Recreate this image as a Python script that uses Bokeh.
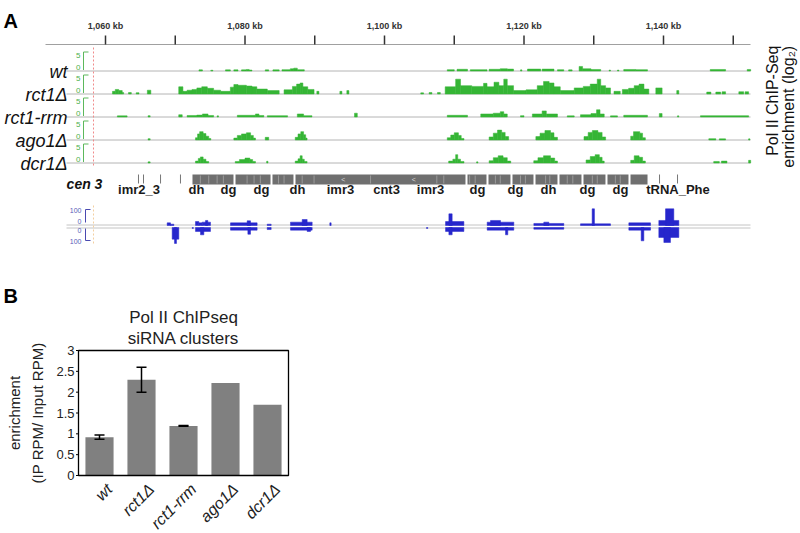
import math
from bokeh.plotting import figure
from bokeh.models import Range1d
from bokeh.embed import file_html
from bokeh.resources import INLINE
from bokeh.core.properties import value

FONT = "Liberation Sans"

# ======================= DATA : panel A =======================
ruler_ticks_kb = [1060, 1070, 1080, 1090, 1100, 1110, 1120, 1130, 1140, 1150]
ruler_label_kb = [1060, 1080, 1100, 1120, 1140]
ruler_labels = ["1,060 kb", "1,080 kb", "1,100 kb", "1,120 kb", "1,140 kb"]

track_names = ["wt", "rct1Δ", "rct1-rrm", "ago1Δ", "dcr1Δ"]
track_scale = ["5", "0"]

# (start kb, end kb, log2 enrichment)
wt_cov = [(1073.4, 1073.9, 0.3), (1075.1, 1075.4, 0.2), (1077.2, 1077.9, 0.3), (1078.4, 1079.0, 0.3),
          (1079.5, 1080.2, 0.3), (1080.2, 1080.6, 0.4), (1080.6, 1081.0, 0.25), (1082.9, 1083.4, 0.3),
          (1084.0, 1084.9, 0.3), (1085.3, 1086.5, 0.35), (1086.5, 1087.0, 0.6), (1087.0, 1087.5, 0.75),
          (1087.5, 1088.5, 0.35), (1109.0, 1110.0, 0.35), (1110.4, 1111.9, 0.45), (1112.3, 1114.7, 0.35),
          (1115.0, 1116.6, 0.45), (1116.6, 1117.6, 0.6), (1117.6, 1118.5, 0.5), (1119.5, 1119.7, 0.3),
          (1120.5, 1122.4, 0.5), (1122.6, 1124.3, 0.5), (1124.8, 1125.7, 0.35), (1126.4, 1126.9, 0.3),
          (1127.9, 1128.4, 1.2), (1128.4, 1129.6, 0.6), (1129.6, 1131.0, 0.4), (1132.2, 1132.4, 0.25),
          (1133.4, 1133.6, 0.25), (1134.3, 1136.0, 0.4), (1136.0, 1137.7, 0.35), (1146.7, 1148.9, 0.4),
          (1152.0, 1152.5, 0.4)]

rct1_cov = [(1061.0, 1061.4, 0.7), (1061.4, 1061.9, 1.2), (1061.9, 1062.4, 0.9), (1062.4, 1062.6, 0.4),
            (1063.3, 1063.7, 0.4), (1064.4, 1064.8, 0.35), (1066.0, 1066.5, 1.0), (1070.5, 1071.1, 1.9),
            (1071.1, 1071.7, 0.7), (1071.7, 1072.4, 1.0), (1072.4, 1073.1, 1.2), (1073.1, 1073.8, 1.6),
            (1073.8, 1074.6, 1.9), (1074.6, 1075.5, 1.5), (1075.5, 1076.5, 1.0), (1076.5, 1077.9, 0.7),
            (1077.9, 1078.4, 1.8), (1078.4, 1079.0, 2.5), (1079.0, 1080.2, 2.3), (1080.2, 1081.0, 2.1),
            (1081.0, 1081.7, 1.9), (1081.7, 1083.2, 1.3), (1083.2, 1084.9, 0.9), (1085.6, 1086.8, 1.1),
            (1086.8, 1087.4, 2.0), (1087.4, 1087.9, 2.6), (1087.9, 1088.3, 2.9), (1088.3, 1089.0, 1.9),
            (1089.0, 1089.9, 1.2), (1090.3, 1090.6, 0.7), (1093.6, 1093.9, 0.7), (1094.6, 1094.9, 0.9),
            (1105.2, 1105.6, 0.3), (1106.4, 1106.8, 0.4), (1107.6, 1108.0, 0.4), (1108.7, 1110.2, 1.9),
            (1110.2, 1110.9, 3.9), (1110.9, 1112.5, 2.2), (1112.5, 1114.2, 2.0), (1114.2, 1114.7, 2.8),
            (1114.7, 1115.7, 1.9), (1115.7, 1116.4, 3.1), (1116.4, 1117.1, 2.2), (1117.1, 1117.6, 3.9),
            (1117.6, 1118.5, 2.2), (1118.5, 1120.3, 0.9), (1120.3, 1121.9, 1.1), (1121.9, 1122.8, 2.2),
            (1122.8, 1123.6, 3.3), (1123.6, 1124.3, 2.9), (1124.3, 1125.2, 1.9), (1125.2, 1127.2, 0.9),
            (1127.2, 1128.5, 1.6), (1128.5, 1129.5, 2.0), (1129.5, 1130.5, 2.6), (1130.5, 1131.0, 3.9),
            (1131.0, 1131.7, 2.2), (1131.7, 1132.4, 1.6), (1132.9, 1133.8, 0.7), (1134.1, 1135.0, 1.2),
            (1135.0, 1135.8, 1.5), (1135.8, 1136.5, 2.2), (1136.5, 1137.2, 2.6), (1137.2, 1137.9, 1.3),
            (1138.9, 1139.8, 1.6), (1141.9, 1142.2, 0.9), (1146.2, 1146.8, 0.5), (1147.5, 1148.2, 0.5),
            (1148.4, 1148.9, 0.6), (1150.8, 1151.5, 0.6), (1151.7, 1152.2, 0.6)]

rrm_cov = [(1061.7, 1063.1, 0.3), (1066.1, 1066.4, 0.35), (1070.5, 1071.0, 0.6), (1071.7, 1073.1, 0.4),
           (1073.1, 1073.9, 0.5), (1073.9, 1074.7, 0.8), (1074.7, 1075.5, 0.4), (1076.0, 1076.2, 0.3),
           (1078.9, 1081.5, 0.45), (1081.5, 1082.0, 0.8), (1082.0, 1082.7, 0.4), (1083.2, 1086.1, 0.35),
           (1087.5, 1088.4, 0.8), (1088.4, 1089.6, 0.35), (1095.7, 1096.1, 1.0), (1109.0, 1111.9, 0.45),
           (1113.8, 1115.6, 0.8), (1115.6, 1116.6, 1.0), (1116.6, 1117.1, 1.4), (1117.1, 1117.6, 0.8),
           (1119.5, 1120.0, 0.35), (1121.2, 1122.6, 0.8), (1122.6, 1123.2, 1.6), (1123.2, 1124.8, 0.8),
           (1126.2, 1127.2, 0.3), (1128.1, 1129.6, 0.6), (1129.6, 1130.4, 0.9), (1130.4, 1130.9, 1.9),
           (1130.9, 1131.5, 0.8), (1132.4, 1133.4, 0.3), (1134.3, 1137.7, 0.45), (1139.4, 1139.8, 0.9),
           (1142.0, 1142.2, 0.3), (1145.3, 1152.2, 0.35)]

ago1_cov = [(1066.1, 1066.4, 0.35),
            (1072.9, 1073.2, 0.6), (1073.2, 1073.5, 1.6), (1073.5, 1074.0, 2.2), (1074.0, 1074.4, 1.7),
            (1074.4, 1074.8, 1.0), (1074.8, 1075.1, 0.4),
            (1078.4, 1078.9, 0.5), (1078.9, 1079.5, 1.2), (1079.5, 1080.2, 1.6), (1080.2, 1080.8, 1.9),
            (1080.8, 1081.2, 1.2), (1081.2, 1081.5, 0.5), (1082.9, 1083.4, 0.7),
            (1087.2, 1087.6, 0.7), (1087.6, 1088.0, 1.6), (1088.0, 1088.4, 2.2), (1088.4, 1088.7, 1.4),
            (1088.7, 1088.9, 0.5),
            (1109.0, 1109.5, 0.6), (1109.5, 1110.0, 1.3), (1110.0, 1110.6, 1.9), (1110.6, 1111.0, 1.2),
            (1111.0, 1111.4, 0.4),
            (1115.0, 1115.6, 0.8), (1115.6, 1116.2, 1.8), (1116.2, 1116.8, 2.6), (1116.8, 1117.3, 2.0),
            (1117.3, 1117.8, 0.9),
            (1121.7, 1122.3, 0.9), (1122.3, 1123.0, 1.8), (1123.0, 1123.8, 2.5), (1123.8, 1124.3, 1.9),
            (1124.3, 1124.8, 0.7),
            (1128.6, 1129.2, 0.9), (1129.2, 1129.8, 2.0), (1129.8, 1130.6, 2.5), (1130.6, 1131.2, 2.0),
            (1131.2, 1131.7, 0.8),
            (1135.3, 1135.7, 1.0), (1135.7, 1136.6, 2.2), (1136.6, 1137.0, 1.8), (1137.0, 1137.4, 0.6),
            (1146.5, 1147.5, 0.35), (1148.0, 1148.9, 0.3), (1152.2, 1152.4, 0.3)]

dcr1_cov = [(1066.1, 1066.4, 0.3),
            (1072.9, 1073.3, 0.5), (1073.3, 1073.6, 1.2), (1073.6, 1074.0, 1.6), (1074.0, 1074.4, 1.0),
            (1074.4, 1074.8, 0.4),
            (1078.6, 1079.2, 0.4), (1079.2, 1080.0, 0.9), (1080.0, 1080.7, 1.3), (1080.7, 1081.1, 0.9),
            (1081.1, 1081.5, 0.4), (1083.1, 1083.3, 0.45),
            (1087.2, 1087.6, 0.5), (1087.6, 1087.9, 1.1), (1087.9, 1088.2, 1.9), (1088.2, 1088.5, 1.0),
            (1088.5, 1088.9, 0.4),
            (1109.2, 1109.8, 0.5), (1109.8, 1110.2, 1.0), (1110.2, 1110.5, 2.2), (1110.5, 1110.9, 1.0),
            (1110.9, 1111.4, 0.4), (1113.2, 1113.4, 0.3),
            (1115.0, 1115.6, 0.6), (1115.6, 1116.3, 1.4), (1116.3, 1117.0, 1.9), (1117.0, 1117.6, 1.4),
            (1117.6, 1118.1, 0.5),
            (1121.4, 1122.0, 0.6), (1122.0, 1122.8, 1.4), (1122.8, 1123.8, 1.9), (1123.8, 1124.4, 1.3),
            (1124.4, 1124.8, 0.5),
            (1128.9, 1129.5, 0.8), (1129.5, 1130.2, 1.7), (1130.2, 1130.8, 2.2), (1130.8, 1131.2, 1.5),
            (1131.2, 1131.5, 0.5),
            (1135.3, 1135.8, 0.7), (1135.8, 1136.5, 1.9), (1136.5, 1137.0, 1.5), (1137.0, 1137.4, 0.5),
            (1147.2, 1148.0, 0.4), (1148.3, 1149.1, 0.5), (1152.2, 1152.5, 0.7)]

# annotation track (kb)
annot_blocks = [(1072.47, 1078.35), (1078.64, 1083.66), (1083.94, 1086.95), (1087.24, 1111.61),
                (1111.90, 1114.62), (1114.91, 1118.06), (1118.35, 1121.36), (1121.65, 1124.80),
                (1125.09, 1128.24), (1128.53, 1131.68), (1131.97, 1134.98), (1135.27, 1137.71)]
annot_notches_kb = [1073.6, 1074.8, 1076.0, 1076.9, 1080.3, 1081.3, 1082.2, 1084.8, 1085.6, 1088.2,
                    1089.9, 1098.0, 1107.5, 1108.5, 1112.2, 1113.0, 1115.9, 1116.6, 1119.5, 1120.2,
                    1123.1, 1123.7, 1126.2, 1127.0, 1129.8, 1130.5, 1133.1, 1133.8]
annot_ticks_kb = [1064.73, 1065.45, 1067.89, 1070.75, 1139.43, 1142.01]
annot_arrows_kb = [1094.1, 1104.2]
annot_labels = ["imr2_3", "dh", "dg", "dg", "dh", "imr3", "cnt3", "imr3",
                "dg", "dg", "dh", "dg", "dg", "tRNA_Phe"]
annot_label_kb = [1064.80, 1073.05, 1077.63, 1082.37, 1087.53, 1093.69, 1100.29, 1106.60,
                  1113.33, 1118.78, 1123.51, 1129.10, 1133.84, 1142.08]
cen_label = "cen 3"

# siRNA reads (start kb, end kb, reads), plus and minus strand
sirna_plus = [(1068.84, 1069.32, 22), (1069.32, 1069.80, 11), (1072.90, 1073.38, 33), (1073.38, 1073.86, 22),
              (1073.86, 1075.05, 28), (1074.34, 1074.67, 42), (1077.92, 1081.74, 22), (1080.31, 1080.79, 39),
              (1083.18, 1083.75, 11), (1086.52, 1089.63, 28), (1088.20, 1088.91, 50), (1092.16, 1092.35, 22),
              (1108.75, 1111.38, 33), (1109.23, 1109.70, 97), (1114.72, 1118.54, 28), (1115.20, 1116.63, 42),
              (1121.41, 1125.71, 17), (1122.84, 1123.56, 28), (1128.10, 1132.40, 14), (1129.77, 1130.10, 139),
              (1135.03, 1138.14, 22), (1139.33, 1142.20, 42), (1140.29, 1141.48, 139)]
sirna_minus = [(1069.56, 1070.51, 97), (1069.89, 1070.18, 133), (1072.43, 1072.60, 8), (1072.90, 1075.05, 33),
               (1073.62, 1074.10, 61), (1077.92, 1081.74, 22), (1080.41, 1080.79, 56), (1083.18, 1083.75, 17),
               (1086.52, 1089.63, 22), (1088.91, 1089.39, 33), (1106.02, 1106.21, 8), (1108.75, 1111.38, 33),
               (1109.23, 1109.70, 61), (1114.72, 1118.54, 22), (1117.35, 1117.68, 61), (1121.41, 1125.71, 14),
               (1135.03, 1138.14, 22), (1136.80, 1137.18, 111), (1139.33, 1142.20, 83), (1140.05, 1141.00, 125)]
sirna_scale = ["100", "0", "0", "100"]

side_label_1 = "Pol II  ChIP-Seq"
side_label_2 = "enrichment  (log\u2082)"

# ======================= DATA : panel B =======================
genotypes = ["wt", "rct1Δ", "rct1-rrm", "ago1Δ", "dcr1Δ"]
enrichment = [0.92, 2.30, 1.19, 2.22, 1.70]
enrichment_err = [0.05, 0.30, 0.01, 0.0, 0.0]
y_ticks = [0, 0.5, 1, 1.5, 2, 2.5, 3]
b_title = ["Pol II ChIPseq", "siRNA clusters"]
b_ylabel = ["enrichment", "(IP RPM/ Input RPM)"]

# ======================= LAYOUT =======================
W, H = 800, 533
GREEN = "#35b535"
BLUE = "#2626cc"
GREY_BAR = "#6f6f6f"
PX_PER_KB = 6.975

# panel B frame (pixels)
BF_L, BF_R, BF_T, BF_B = 78, 288, 350, 475
B_YMAX = 3
BX_PX = (BF_R - BF_L) / len(genotypes)
BY_PX = (BF_B - BF_T) / B_YMAX


def kbx(px):
    """pixel x -> kb on the ruler scale"""
    return 1060 + (px - 105) / PX_PER_KB


p = figure(width=W, height=H, output_backend="svg", toolbar_location=None,
           x_range=Range1d(kbx(0), kbx(W)), y_range=Range1d(H, 0),
           x_axis_type=None, y_axis_type=None, min_border=0, outline_line_color=None)
p.grid.visible = False
p.extra_x_ranges = {"bx": Range1d(-BF_L / BX_PX, (W - BF_L) / BX_PX)}
p.extra_y_ranges = {"by": Range1d(-(H - BF_B) / BY_PX, BF_B / BY_PX)}


def txt(x, y, t, size, align="center", base="middle", style="normal", color="#1a1a1a", angle=0.0,
        xr="default", yr="default"):
    p.text(x=x, y=y, text=t, text_font=value(FONT), text_font_size=size, text_align=align,
           text_baseline=base, text_font_style=style, text_color=color, angle=angle,
           x_range_name=xr, y_range_name=yr)


# panel letters
txt([kbx(3)], [20], ["A"], "20px", align="left", base="alphabetic", style="bold", color="black")
txt([kbx(3)], [295], ["B"], "20px", align="left", base="alphabetic", style="bold", color="black")

# ruler
p.segment(x0=[kbx(45)], y0=[44], x1=[kbx(750)], y1=[44], line_color="#a0a0a0", line_width=1)
p.segment(x0=ruler_ticks_kb, y0=[35] * len(ruler_ticks_kb), x1=ruler_ticks_kb,
          y1=[44] * len(ruler_ticks_kb), line_color="#333333", line_width=1.5)
txt(ruler_label_kb, [25] * len(ruler_label_kb), ruler_labels, "9px", style="bold", color="#333333")

# green tracks
bases = [70.5, 93.5, 116.5, 139.5, 162.5]
GPX = 3.8
covs = [wt_cov, rct1_cov, rrm_cov, ago1_cov, dcr1_cov]
for name, base, cov in zip(track_names, bases, covs):
    p.segment(x0=[kbx(66)], y0=[base], x1=[kbx(750)], y1=[base], line_color="#b4b4b4", line_width=1)
    p.quad(left=[c[0] for c in cov], right=[c[1] for c in cov],
           top=[base - c[2] * GPX for c in cov], bottom=[base] * len(cov),
           fill_color=GREEN, line_color=GREEN, line_width=0.5)
    p.segment(x0=[kbx(83), kbx(83)], y0=[base - 1, base - 19], x1=[kbx(83), kbx(88)],
              y1=[base - 19, base - 19], line_color="#5cb85c", line_width=1)
    txt([kbx(80), kbx(80)], [base - 16, base - 4], track_scale, "8px", align="right", color="#4cb04c")
    txt([kbx(67)], [base + 1], [name], "18px", align="right", base="alphabetic", style="italic",
        color="#111111")

p.segment(x0=[kbx(93)], y0=[47], x1=[kbx(93)], y1=[166], line_color="#f08a8a", line_width=1,
          line_dash="2 2")

# annotation track
p.quad(left=[b[0] for b in annot_blocks], right=[b[1] for b in annot_blocks],
       top=[174] * len(annot_blocks), bottom=[184] * len(annot_blocks),
       fill_color=GREY_BAR, line_color=None)
p.segment(x0=annot_notches_kb, y0=[175] * len(annot_notches_kb), x1=annot_notches_kb,
          y1=[183] * len(annot_notches_kb), line_color="#9a9a9a", line_width=1)
p.segment(x0=annot_ticks_kb, y0=[174] * len(annot_ticks_kb), x1=annot_ticks_kb,
          y1=[183] * len(annot_ticks_kb), line_color="#777777", line_width=1)
txt(annot_arrows_kb, [179] * len(annot_arrows_kb), ["<"] * len(annot_arrows_kb), "7px",
    color="#d8d8d8")
txt(annot_label_kb, [189] * len(annot_label_kb), annot_labels, "13px", style="bold", color="#1a1a1a")
txt([kbx(84)], [183], [cen_label], "14px", style="bold italic", color="#111111")

# siRNA track
p.segment(x0=[kbx(66), kbx(66)], y0=[224.5, 227.5], x1=[kbx(750), kbx(750)], y1=[224.5, 227.5],
          line_color="#c4c4c4", line_width=1)
SPX = 12 / 100
p.quad(left=[s[0] for s in sirna_plus], right=[s[1] for s in sirna_plus],
       top=[225 - s[2] * SPX for s in sirna_plus], bottom=[225] * len(sirna_plus),
       fill_color=BLUE, line_color=BLUE, line_width=0.5)
p.quad(left=[s[0] for s in sirna_minus], right=[s[1] for s in sirna_minus],
       top=[227] * len(sirna_minus), bottom=[227 + s[2] * SPX for s in sirna_minus],
       fill_color=BLUE, line_color=BLUE, line_width=0.5)
p.segment(x0=[kbx(85), kbx(85), kbx(85), kbx(85)], y0=[209, 209, 228, 240],
          x1=[kbx(85), kbx(90), kbx(85), kbx(90)], y1=[222, 209, 240, 240],
          line_color="#4a4ab0", line_width=1)
txt([kbx(81)] * 4, [210, 221, 230, 241], sirna_scale, "7px", align="right", color="#5a5ab8")
p.segment(x0=[kbx(93)], y0=[205], x1=[kbx(93)], y1=[245], line_color="#f3cfa0", line_width=1,
          line_dash="2 2")

# right side label
txt([kbx(772)], [98], [side_label_1], "16px", color="#111111", angle=math.pi / 2)
txt([kbx(788)], [104], [side_label_2], "16px", color="#111111", angle=math.pi / 2)

# ======================= PANEL B =======================
txt([kbx((BF_L + BF_R) / 2)] * 2, [317, 338], b_title, "17px", base="alphabetic", color="#222222")

bx = [i + 0.5 for i in range(len(genotypes))]
p.vbar(x=bx, top=enrichment, bottom=0, width=0.67, fill_color="#808080", line_color=None,
       x_range_name="bx", y_range_name="by")

# error bars
CAP = 5 / BX_PX
ex = [x for x, e in zip(bx, enrichment_err) if e > 0]
eu = [v + e for v, e in zip(enrichment, enrichment_err) if e > 0]
el = [v - e for v, e in zip(enrichment, enrichment_err) if e > 0]
p.segment(x0=ex, y0=el, x1=ex, y1=eu, line_color="black", line_width=1.5,
          x_range_name="bx", y_range_name="by")
p.segment(x0=[x - CAP for x in ex] * 2, y0=eu + el, x1=[x + CAP for x in ex] * 2, y1=eu + el,
          line_color="black", line_width=1.5, x_range_name="bx", y_range_name="by")

# frame / axes
p.quad(left=[0], right=[len(genotypes)], bottom=[0], top=[B_YMAX], fill_color=None,
       line_color="black", line_width=1.3, x_range_name="bx", y_range_name="by")
p.segment(x0=[-2.5 / BX_PX] * len(y_ticks), y0=y_ticks, x1=[0] * len(y_ticks), y1=y_ticks,
          line_color="black", line_width=1, x_range_name="bx", y_range_name="by")
txt([-4 / BX_PX] * len(y_ticks), y_ticks, [("%g" % t) for t in y_ticks], "13px", align="right",
    color="#222222", xr="bx", yr="by")
txt([x + 10 / BX_PX for x in bx], [-11 / BY_PX] * len(bx), genotypes, "16px", align="right",
    style="italic", color="#222222", angle=math.pi / 4, xr="bx", yr="by")
b_mid = B_YMAX / 2
txt([-64 / BX_PX, -41 / BX_PX], [b_mid, b_mid], b_ylabel, "15px", color="#222222",
    angle=math.pi / 2, xr="bx", yr="by")

open("out.html", "w").write(file_html(p, INLINE))
